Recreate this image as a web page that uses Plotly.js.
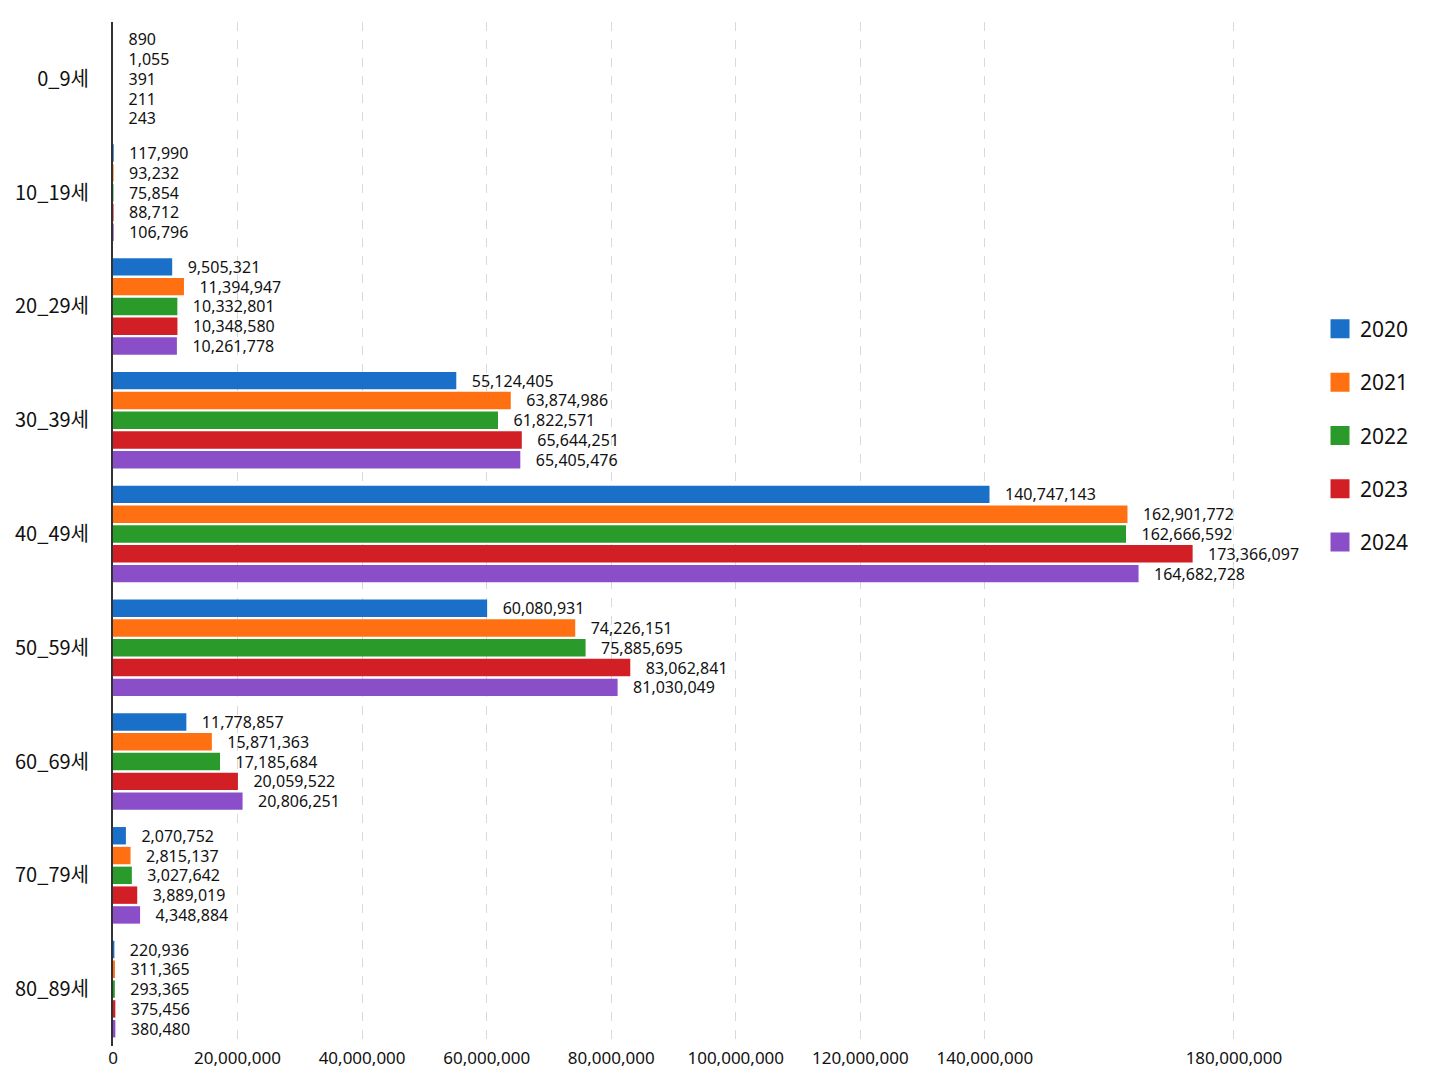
<!DOCTYPE html>
<html>
<head>
<meta charset="utf-8">
<script src="https://cdn.plot.ly/plotly-3.0.1.min.js"></script>
<style>html,body{margin:0;padding:0;background:#fff;}#chart{width:1448px;height:1086px;}</style>
</head>
<body>
<div id="chart"></div>
<script>
const categories = ['0_9세', '10_19세', '20_29세', '30_39세', '40_49세', '50_59세', '60_69세', '70_79세', '80_89세'];
const years = ['2020', '2021', '2022', '2023', '2024'];
const v2020 = [890, 117990, 9505321, 55124405, 140747143, 60080931, 11778857, 2070752, 220936];
const v2021 = [1055, 93232, 11394947, 63874986, 162901772, 74226151, 15871363, 2815137, 311365];
const v2022 = [391, 75854, 10332801, 61822571, 162666592, 75885695, 17185684, 3027642, 293365];
const v2023 = [211, 88712, 10348580, 65644251, 173366097, 83062841, 20059522, 3889019, 375456];
const v2024 = [243, 106796, 10261778, 65405476, 164682728, 81030049, 20806251, 4348884, 380480];
const tickValues = [0, 20000000, 40000000, 60000000, 80000000, 100000000, 120000000, 140000000, 180000000];
const tickLabels = ['0', '20,000,000', '40,000,000', '60,000,000', '80,000,000', '100,000,000', '120,000,000', '140,000,000', '180,000,000'];

const series = [v2020, v2021, v2022, v2023, v2024];
const colors = ['#1a70c8', '#ff7012', '#2a9b2a', '#d21f25', '#8a4fc8'];

const traces = [];
series.forEach((vals, i) => {
  traces.push({
    type: 'bar',
    orientation: 'h',
    name: years[i],
    y: categories,
    x: vals,
    marker: {color: colors[i]},
    texttemplate: '\u00a0\u00a0\u00a0%{x:,}',
    textposition: 'outside',
    constraintext: 'none',
    cliponaxis: false,
    textfont: {family: 'Noto Sans', size: 16, color: '#111'},
    showlegend: false,
    hoverinfo: 'skip'
  });
});
years.forEach((yr, i) => {
  traces.push({
    type: 'scatter',
    mode: 'markers',
    name: yr,
    x: [null],
    y: [null],
    legendgroup: 'g' + i,
    marker: {symbol: 'square', size: 16, color: colors[i], line: {color: colors[i], width: 3}},
    showlegend: true,
    hoverinfo: 'skip'
  });
});

const layout = {
  width: 1448,
  height: 1086,
  margin: {l: 113, r: 158, t: 22, b: 40},
  paper_bgcolor: '#fff',
  plot_bgcolor: '#fff',
  barmode: 'group',
  bargap: 0.13,
  bargroupgap: 0.12,
  hovermode: false,
  font: {family: 'Noto Sans, Noto Sans CJK KR', color: '#111'},
  xaxis: {
    range: [0, 189000000],
    tickvals: tickValues,
    ticktext: tickLabels,
    showgrid: true,
    gridcolor: '#d9d9d9',
    griddash: 'dash',
    gridwidth: 1,
    zeroline: false,
    showline: false,
    ticks: '',
    tickfont: {family: 'Noto Sans', size: 17, color: '#111'},
    fixedrange: true
  },
  yaxis: {
    type: 'category',
    autorange: 'reversed',
    showline: true,
    linecolor: '#333',
    linewidth: 2,
    showgrid: false,
    zeroline: false,
    ticks: '',
    ticklabelstandoff: 18,
    tickfont: {family: 'Noto Sans CJK KR', size: 20, color: '#111'},
    fixedrange: true
  },
  legend: {
    x: 1.0255,
    xanchor: 'left',
    y: 0.596,
    yanchor: 'middle',
    font: {family: 'Noto Sans', size: 21, color: '#111'},
    tracegroupgap: 23,
    bgcolor: 'rgba(0,0,0,0)'
  },
  showlegend: true
};

Plotly.newPlot('chart', traces, layout, {displayModeBar: false, staticPlot: true});
</script>
</body>
</html>
